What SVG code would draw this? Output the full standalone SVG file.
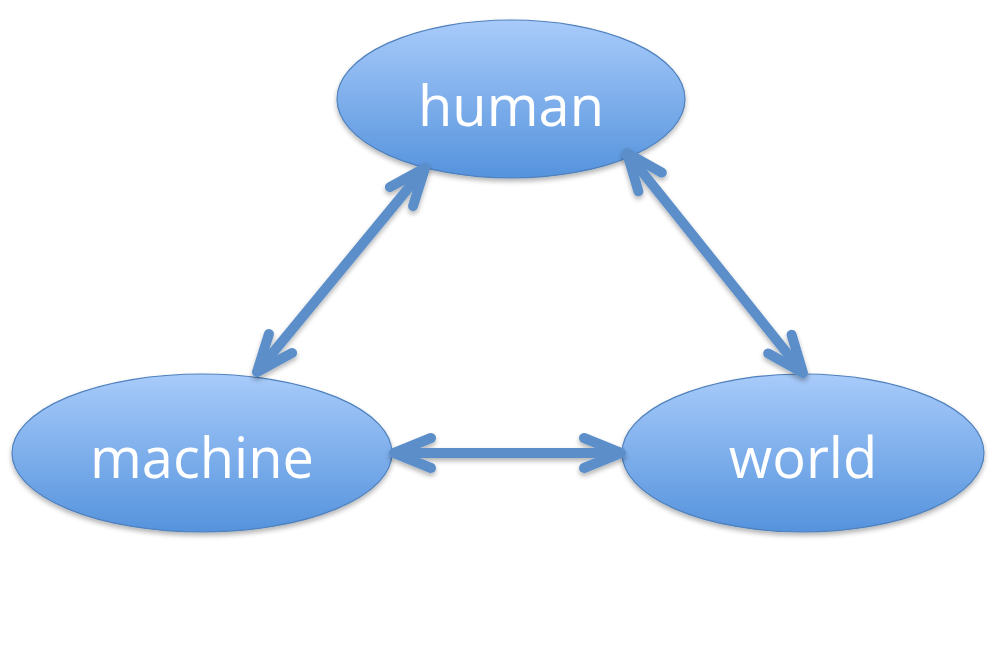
<svg xmlns="http://www.w3.org/2000/svg" width="994" height="645" viewBox="0 0 994 645">
  <defs>
    <linearGradient id="fill" x1="0" y1="0" x2="0" y2="1">
      <stop offset="0" stop-color="#a8cbfa"/>
      <stop offset="1" stop-color="#5593dd"/>
    </linearGradient>
    <filter id="shadow" x="-20%" y="-20%" width="140%" height="150%">
      <feGaussianBlur in="SourceAlpha" stdDeviation="2.5"/>
      <feOffset dx="0" dy="3" result="b"/>
      <feComponentTransfer><feFuncA type="linear" slope="0.3"/></feComponentTransfer>
      <feMerge><feMergeNode/><feMergeNode in="SourceGraphic"/></feMerge>
    </filter>
    <marker id="chev" markerUnits="userSpaceOnUse" markerWidth="60" markerHeight="60" viewBox="-50 -25 60 50" refX="0" refY="0" orient="auto-start-reverse">
      <path d="M-37,-15 L0,0 L-37,15" fill="none" stroke="#5b8fca" stroke-width="10" stroke-linecap="round" stroke-linejoin="round"/>
    </marker>
    <style>
      .node ellipse { fill: url(#fill); stroke: #4f81bd; stroke-width: 1.2; }
      .node text { fill: #ffffff; font-family: "Open Sans", "Liberation Sans", sans-serif; font-size: 56px; text-anchor: middle; }
      .conn line { stroke: #5b8fca; stroke-width: 10; marker-start: url(#chev); marker-end: url(#chev); }
    </style>
  </defs>
  <rect width="994" height="645" fill="#ffffff"/>
  <g id="human" class="node" filter="url(#shadow)">
    <ellipse cx="511" cy="99" rx="174" ry="79"/>
    <text x="511" y="126">human</text>
  </g>
  <g id="machine" class="node" filter="url(#shadow)">
    <ellipse cx="202" cy="453" rx="190" ry="79"/>
    <text x="202" y="478">machine</text>
  </g>
  <g id="world" class="node" filter="url(#shadow)">
    <ellipse cx="803" cy="453" rx="181" ry="79"/>
    <text x="803" y="478">world</text>
  </g>
  <g id="connectors" class="conn" filter="url(#shadow)">
    <line x1="257" y1="372" x2="425" y2="168"/>
    <line x1="627" y1="153" x2="803" y2="373"/>
    <line x1="394" y1="453" x2="621" y2="453"/>
  </g>
</svg>
